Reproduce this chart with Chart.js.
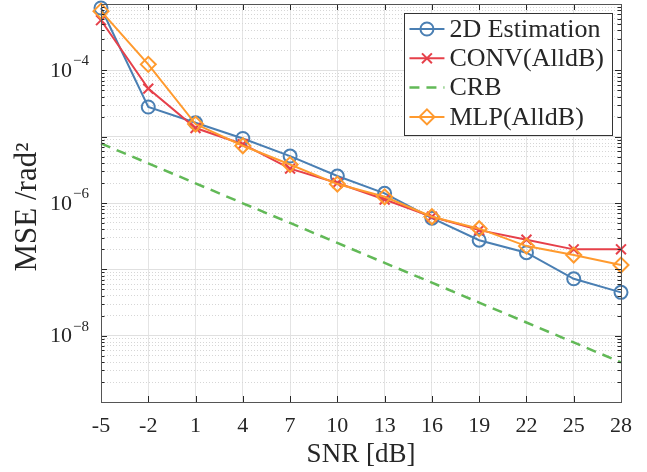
<!DOCTYPE html>
<html>
<head>
<meta charset="utf-8">
<script src="https://cdn.jsdelivr.net/npm/chart.js@4.4.0/dist/chart.umd.min.js"></script>
<style>
  html, body { margin: 0; background: #fff; }
</style>
</head>
<body>
<canvas id="grafico" width="647" height="472"></canvas>
<script>
// ======= DADOS =======
const snr = ['-5', '-2', '1', '4', '7', '10', '13', '16', '19', '22', '25', '28'];
const est2d = [8.7e-4, 2.8e-5, 1.62e-5, 9.4e-6, 5.1e-6, 2.55e-6, 1.4e-6, 5.9e-7, 2.75e-7, 1.78e-7, 7.2e-8, 4.5e-8];
const convAll = [5.7e-4, 5.3e-5, 1.35e-5, 7.7e-6, 3.3e-6, 2.0e-6, 1.13e-6, 6.2e-7, 3.9e-7, 2.8e-7, 2.0e-7, 2.0e-7];
const crb = [7.9e-6, 3.96e-6, 1.98e-6, 9.9e-7, 5.0e-7, 2.5e-7, 1.25e-7, 6.3e-8, 3.15e-8, 1.58e-8, 7.9e-9, 3.96e-9];
const mlpAll = [7.8e-4, 1.23e-4, 1.55e-5, 7.3e-6, 3.8e-6, 1.93e-6, 1.24e-6, 6.2e-7, 4.1e-7, 2.24e-7, 1.64e-7, 1.16e-7];

// eixo y log: décadas e mantissas das marcas, expoentes rotulados
const decadas = [-9, -8, -7, -6, -5, -4];
const mantissas = [1, 2, 3, 4, 5, 6, 7, 8, 9];
const expRotulos = [-8, -6, -4];
const yMin = 1e-9, yMax = 1e-3;

const FONTE = "'Liberation Serif', 'Times New Roman', serif";
const COR_TEXTO = '#262626';

function marcasY() {
  const t = [];
  decadas.forEach(e => mantissas.forEach(m => t.push({ value: m * Math.pow(10, e), major: m === 1 })));
  t.push({ value: yMax, major: true });
  return t;
}

// ======= PLUGIN: moldura, marcas internas, rótulos e legenda =======
const moldura = {
  id: 'moldura',
  afterDraw(chart) {
    const { ctx, chartArea: a } = chart;
    const x = chart.scales.x, y = chart.scales.y;
    const px = v => Math.round(v) + 0.5;
    ctx.save();

    // marcas internas
    ctx.strokeStyle = COR_TEXTO;
    ctx.lineWidth = 1;
    ctx.beginPath();
    y.ticks.forEach(t => {
      const yy = px(y.getPixelForValue(t.value));
      const len = t.major ? 6 : 3.5;
      ctx.moveTo(a.left, yy); ctx.lineTo(a.left + len, yy);
      ctx.moveTo(a.right, yy); ctx.lineTo(a.right - len, yy);
    });
    x.ticks.forEach((t, i) => {
      const xx = px(x.getPixelForTick(i));
      ctx.moveTo(xx, a.top); ctx.lineTo(xx, a.top + 6);
      ctx.moveTo(xx, a.bottom); ctx.lineTo(xx, a.bottom - 6);
    });
    ctx.stroke();

    // caixa dos eixos
    ctx.strokeStyle = '#555';
    ctx.strokeRect(px(a.left), px(a.top), Math.round(a.right - a.left), Math.round(a.bottom - a.top));

    // rótulos do eixo y: 10^n
    ctx.fillStyle = COR_TEXTO;
    expRotulos.forEach(e => {
      const yy = y.getPixelForValue(Math.pow(10, e));
      ctx.font = '22px ' + FONTE;
      ctx.textAlign = 'right';
      ctx.textBaseline = 'middle';
      ctx.fillText('10', a.left - 29, yy + 1);
      ctx.font = '15px ' + FONTE;
      ctx.textAlign = 'left';
      ctx.fillText('\u2212' + Math.abs(e), a.left - 28, yy - 9);
    });

    // títulos dos eixos
    ctx.textAlign = 'center';
    ctx.textBaseline = 'middle';
    ctx.font = '27px ' + FONTE;
    ctx.fillText('SNR [dB]', (a.left + a.right) / 2, 455);
    ctx.save();
    ctx.translate(28, (a.top + a.bottom) / 2 + 4);
    ctx.rotate(-Math.PI / 2);
    ctx.font = '31px ' + FONTE;
    ctx.fillText('MSE /rad\u00B2', 0, 0);
    ctx.restore();

    // legenda
    const itens = chart.data.datasets;
    ctx.font = '26px ' + FONTE;
    const larguraTexto = Math.max(...itens.map(d => ctx.measureText(d.label).width));
    const bw = 45 + larguraTexto + 8;
    const bx = a.right - 9 - bw, by = a.top + 9;
    const passo = 29.3;
    const bh = 16 + passo * (itens.length - 1) + 18;
    ctx.fillStyle = '#fff';
    ctx.fillRect(bx, by, bw, bh);
    ctx.strokeStyle = '#333';
    ctx.lineWidth = 1;
    ctx.strokeRect(px(bx), px(by), Math.round(bw), Math.round(bh));
    itens.forEach((d, i) => {
      const ly = by + 16 + passo * i;
      ctx.save();
      ctx.strokeStyle = d.borderColor;
      ctx.lineWidth = d.borderWidth;
      ctx.setLineDash(d.borderDash || []);
      ctx.beginPath();
      ctx.moveTo(bx + 5, ly); ctx.lineTo(bx + 40, ly);
      ctx.stroke();
      ctx.restore();
      if (d.pointRadius > 0) {
        ctx.save();
        ctx.strokeStyle = d.borderColor;
        ctx.fillStyle = 'rgba(0,0,0,0)';
        ctx.lineWidth = d.pointBorderWidth;
        Chart.helpers.drawPoint(ctx, { pointStyle: d.pointStyle, radius: d.pointRadius, rotation: 0, borderWidth: d.pointBorderWidth }, bx + 22.5, ly);
        ctx.restore();
      }
      ctx.fillStyle = COR_TEXTO;
      ctx.textAlign = 'left';
      ctx.textBaseline = 'middle';
      ctx.fillText(d.label, bx + 45, ly + 1);
    });
    ctx.restore();
  }
};

function serie(label, data, cor, estilo, raio, ordem, dash, largura) {
  return {
    label, data,
    borderColor: cor,
    backgroundColor: cor,
    borderWidth: largura || 2,
    borderDash: dash || [],
    pointStyle: estilo,
    pointRadius: raio,
    pointBorderWidth: 2,
    pointBorderColor: cor,
    pointBackgroundColor: 'rgba(0,0,0,0)',
    tension: 0,
    fill: false,
    clip: false,
    order: ordem
  };
}

// ======= GRÁFICO =======
const grafico = new Chart(document.getElementById('grafico'), {
  type: 'line',
  data: {
    labels: snr,
    datasets: [
      serie('2D Estimation', est2d, '#4a7fb3', 'circle', 6.5, 3),
      serie('CONV(AlldB)', convAll, '#e6404a', 'crossRot', 7, 2),
      serie('CRB', crb, '#62b957', false, 0, 1, [10, 7], 2.5),
      serie('MLP(AlldB)', mlpAll, '#ff9a2e', 'rectRot', 7.5, 0)
    ]
  },
  options: {
    responsive: false,
    animation: false,
    devicePixelRatio: 1,
    layout: { autoPadding: false, padding: { top: 4, right: 26, left: 0, bottom: 0 } },
    plugins: { legend: { display: false }, tooltip: { enabled: false } },
    scales: {
      x: {
        type: 'category',
        offset: false,
        grid: { offset: false, color: '#e4e4e4', drawTicks: false },
        border: { display: false },
        ticks: { color: COR_TEXTO, font: { family: FONTE, size: 22 }, padding: 11, maxRotation: 0, autoSkip: false },
        afterFit: s => { s.height = 70; }
      },
      y: {
        type: 'logarithmic',
        position: 'left',
        min: yMin, max: yMax,
        afterBuildTicks: s => { s.ticks = marcasY(); },
        grid: { color: c => (c.tick && c.tick.major ? '#e0e0e0' : 'rgba(0,0,0,0)'), drawTicks: false },
        border: { display: false },
        ticks: { display: false, autoSkip: false },
        afterFit: s => { s.width = 101; }
      },
      yMenor: {
        type: 'logarithmic',
        position: 'left',
        min: yMin, max: yMax,
        afterBuildTicks: s => { s.ticks = marcasY(); },
        grid: { color: c => (c.tick && !c.tick.major ? '#d6d6d6' : 'rgba(0,0,0,0)'), drawTicks: false },
        border: { display: false, dash: [1, 2] },
        ticks: { display: false, autoSkip: false },
        afterFit: s => { s.width = 0; }
      }
    }
  },
  plugins: [moldura]
});
</script>
</body>
</html>
